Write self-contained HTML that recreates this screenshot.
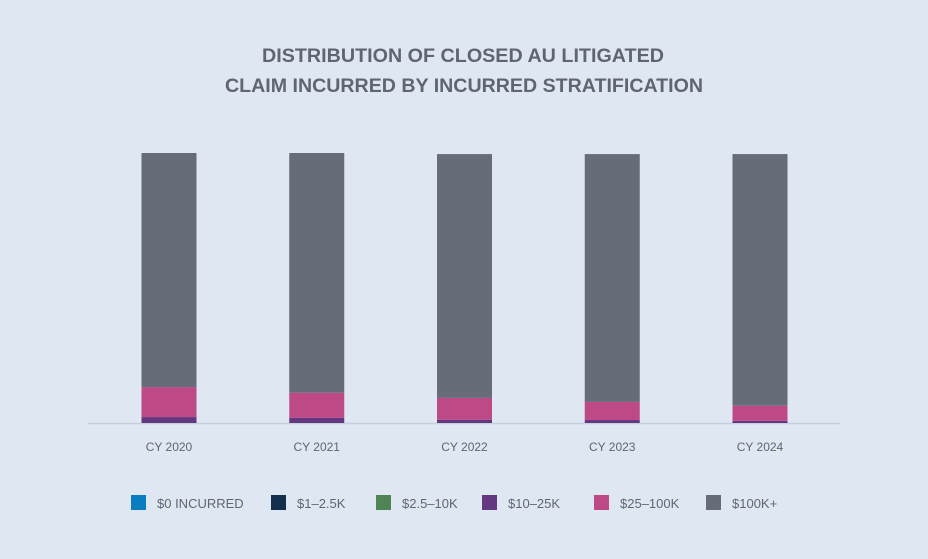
<!DOCTYPE html>
<html><head><meta charset="utf-8"><style>
body{margin:0;background:#dfe7f2;}
svg{display:block;font-family:"Liberation Sans",sans-serif;}
</style></head><body>
<svg id="chart" width="928" height="559">
<rect width="928" height="559" fill="#dfe7f2"/>
<text x="463" y="62" text-anchor="middle" font-size="19" font-weight="bold" fill="#5f6670" textLength="402" lengthAdjust="spacingAndGlyphs">DISTRIBUTION OF CLOSED AU LITIGATED</text>
<text x="464" y="92" text-anchor="middle" font-size="19" font-weight="bold" fill="#5f6670" textLength="478" lengthAdjust="spacingAndGlyphs">CLAIM INCURRED BY INCURRED STRATIFICATION</text>
<line x1="88" x2="840" y1="423.5" y2="423.5" stroke="#c5d0dd" stroke-width="1.5"/>
<g id="bars"></g>
<g id="legend"></g>
</svg>
<script>
const categories=["CY 2020","CY 2021","CY 2022","CY 2023","CY 2024"];
const seriesNames=["$0 INCURRED","$1–2.5K","$2.5–10K","$10–25K","$25–100K","$100K+"];
const colors=["#0a7dc1","#12304d","#4f8457","#633880","#bd4a86","#676d78"];
const s0=[0,0,0,0,0];
const s1=[0,0,0,0,0];
const s2=[0,0,0,0,0];
const s3=[2.2,1.9,1.2,1.1,0.8];
const s4=[11.1,9.3,8.1,6.7,5.6];
const s5=[86.7,88.8,90.3,91.8,93.2];
const series=[s0,s1,s2,s3,s4,s5];
const NS="http://www.w3.org/2000/svg";
const baseY=423, plotH=270, x0=169, step=147.75, barW=55;
const yScale=v=>v/100*plotH;
const xScale=i=>x0+i*step;
const gb=document.getElementById("bars");
categories.forEach((c,i)=>{
  let y=baseY;
  series.forEach((s,k)=>{
    const h=yScale(s[i]);
    if(h<=0)return;
    y-=h;
    const r=document.createElementNS(NS,"rect");
    r.setAttribute("x",xScale(i)-barW/2);r.setAttribute("y",y);
    r.setAttribute("width",barW);r.setAttribute("height",h);
    r.setAttribute("fill",colors[k]);
    
    
    gb.appendChild(r);
  });
  const t=document.createElementNS(NS,"text");
  t.setAttribute("x",xScale(i));t.setAttribute("y",451);
  t.setAttribute("text-anchor","middle");t.setAttribute("font-size","12");
  t.setAttribute("fill","#5f6670");t.textContent=c;
  
  
  gb.appendChild(t);
});
const gl=document.getElementById("legend");
const lx=[131,271,376,482,594,706];
seriesNames.forEach((n,k)=>{
  const r=document.createElementNS(NS,"rect");
  r.setAttribute("x",lx[k]);r.setAttribute("y",495);
  r.setAttribute("width",15);r.setAttribute("height",15);
  r.setAttribute("fill",colors[k]);
  
  
  gl.appendChild(r);
  const t=document.createElementNS(NS,"text");
  t.setAttribute("x",lx[k]+26);t.setAttribute("y",508);
  t.setAttribute("font-size","13");t.setAttribute("fill","#5f6670");
  t.textContent=n;
  
  
  gl.appendChild(t);
});
</script>
</body></html>
